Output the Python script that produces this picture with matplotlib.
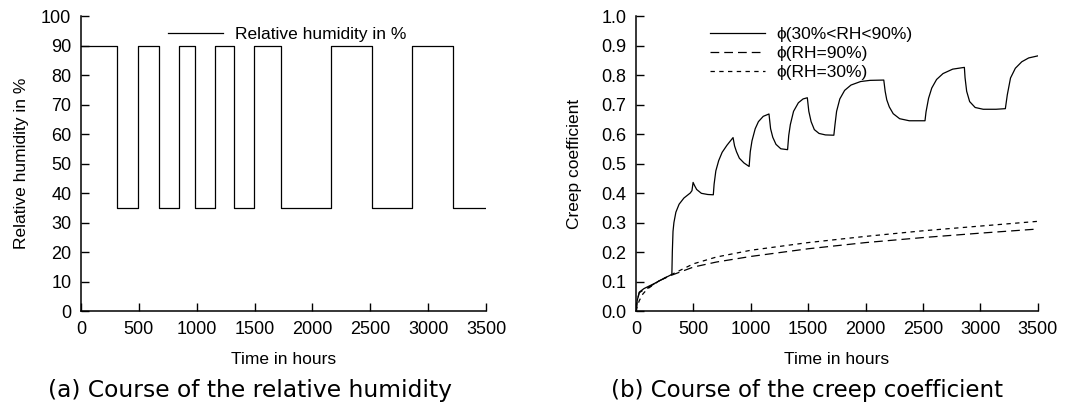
import numpy as np
import matplotlib
matplotlib.use("Agg")
import matplotlib.pyplot as plt

# ---- data ----
# relative humidity: switching times (h) and level held from that time on
rh_times  = [0, 315, 490, 675, 845, 985, 1160, 1325, 1495, 1725, 2160, 2515, 2860, 3215, 3500]
rh_levels = [90, 35, 90, 35, 90, 35, 90, 35, 90, 35, 90, 35, 90, 35, 35]

# creep coefficient for the cycling humidity
phi_var_t = [0, 10, 28, 69, 153, 230, 312, 316, 322, 330, 347, 375, 417, 472, 487, 497,
             510, 528, 569, 625, 673, 680, 695, 720, 750, 792, 845,
             858, 875, 900, 940, 985, 995, 1010, 1038, 1066, 1108, 1158,
             1172, 1191, 1219, 1261, 1320, 1330, 1344, 1372, 1414, 1455, 1492,
             1505, 1525, 1553, 1594, 1650, 1723, 1733, 1747, 1775, 1817, 1872, 1956, 2039, 2158,
             2170, 2184, 2206, 2240, 2296, 2380, 2517, 2526, 2548, 2576, 2618, 2674, 2758, 2860,
             2866, 2880, 2906, 2954, 3024, 3136, 3217, 3234, 3262, 3304, 3360, 3420, 3500]
phi_var   = [0.0, 0.035, 0.064, 0.076, 0.092, 0.108, 0.124, 0.2, 0.27, 0.30, 0.335, 0.362, 0.383, 0.400, 0.408, 0.436,
             0.425, 0.412, 0.399, 0.395, 0.394, 0.43, 0.475, 0.51, 0.538, 0.562, 0.588,
             0.56, 0.54, 0.518, 0.502, 0.49, 0.54, 0.577, 0.618, 0.642, 0.66, 0.668,
             0.618, 0.589, 0.565, 0.55, 0.547, 0.595, 0.632, 0.677, 0.706, 0.719, 0.723,
             0.677, 0.642, 0.615, 0.602, 0.597, 0.596, 0.632, 0.677, 0.719, 0.748, 0.766, 0.778, 0.782, 0.783,
             0.745, 0.716, 0.692, 0.669, 0.652, 0.645, 0.645, 0.675, 0.721, 0.756, 0.785, 0.805, 0.82, 0.826,
             0.791, 0.745, 0.71, 0.69, 0.684, 0.684, 0.686, 0.733, 0.79, 0.823, 0.845, 0.858, 0.865]

# creep coefficient at constant humidity
phi_t    = [0, 10, 28, 60, 100, 200, 300, 500, 700, 1000, 1500, 2000, 2500, 3000, 3500]
phi_90   = [0.0, 0.035, 0.062, 0.07, 0.078, 0.102, 0.12, 0.149, 0.166, 0.185, 0.211, 0.232, 0.249, 0.264, 0.278]
phi_30   = [0.0, 0.015, 0.035, 0.058, 0.075, 0.102, 0.122, 0.16, 0.183, 0.206, 0.232, 0.253, 0.272, 0.288, 0.304]

plt.rcParams['font.family'] = ['Liberation Sans', 'DejaVu Sans']

fig = plt.figure(figsize=(10.83, 4.16), dpi=100)
ax1 = fig.add_axes([0.0748, 0.2524, 0.374, 0.709])
ax2 = fig.add_axes([0.5873, 0.2524, 0.371, 0.709])

def style(ax):
    ax.spines['top'].set_visible(False)
    ax.spines['right'].set_visible(False)
    for s in ('left', 'bottom'):
        ax.spines[s].set_linewidth(1.1)
    ax.tick_params(direction='in', length=6, width=1.0, pad=7, labelsize=13)
    ax.set_xlim(0, 3500)
    ax.set_xticks(np.arange(0, 3501, 500))
    ax.set_xlabel("Time in hours", fontsize=12.5, labelpad=10)

leg_kw = dict(loc='upper left', frameon=False, borderpad=0, borderaxespad=0,
              handlelength=3.15, handletextpad=0.7, fontsize=12.5)

# (a) relative humidity
ax1.step(rh_times, rh_levels, where='post', color='black', lw=0.9,
         label="Relative humidity in %")
style(ax1)
ax1.set_ylim(0, 100)
ax1.set_yticks(np.arange(0, 101, 10))
ax1.set_ylabel("Relative humidity in %", fontsize=12.5, labelpad=9)
ax1.legend(bbox_to_anchor=(0.215, 0.962), **leg_kw)

# (b) creep coefficient
ax2.plot(phi_var_t, phi_var, color='black', lw=0.9, label="ϕ(30%<RH<90%)")
ax2.plot(phi_t, phi_90, color='black', lw=0.9, dashes=(7, 4), label="ϕ(RH=90%)")
ax2.plot(phi_t, phi_30, color='black', lw=0.9, dashes=(3.5, 3.5), label="ϕ(RH=30%)")
style(ax2)
ax2.set_ylim(0, 1.0)
ax2.set_yticks(np.arange(0, 1.01, 0.1))
ax2.set_yticklabels(["%.1f" % v for v in np.arange(0, 1.01, 0.1)])
ax2.set_ylabel("Creep coefficient", fontsize=12.5, labelpad=14)
ax2.legend(bbox_to_anchor=(0.184, 0.962), labelspacing=0.2, **leg_kw)

fig.text(0.231, 0.0625, "(a) Course of the relative humidity", ha='center', va='center',
         fontsize=16.8, family='DejaVu Sans')
fig.text(0.745, 0.0625, "(b) Course of the creep coefficient", ha='center', va='center',
         fontsize=16.5, family='DejaVu Sans')

fig.savefig("out.png", dpi=100)
